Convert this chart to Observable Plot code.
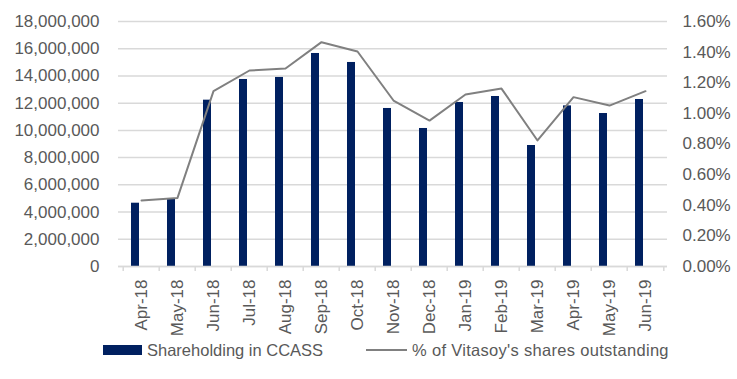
<!DOCTYPE html>
<html>
<head>
<meta charset="utf-8">
<script src="https://cdn.jsdelivr.net/npm/d3@7"></script>
<script src="https://cdn.jsdelivr.net/npm/@observablehq/plot@0.6"></script>
<style>
  body { margin: 0; background: #fff; }
  #chart svg { display: block; }
  .legend { display: flex; align-items: center; height: 20px; font-family: "Liberation Sans", Arial, sans-serif; font-size: 16.5px; color: #595959; white-space: nowrap; }
  .sw-bar { width: 39px; height: 10px; background: #002060; margin-left: 103px; margin-right: 5px; }
  .sw-line { width: 41px; height: 2px; background: #808080; margin-left: 43px; margin-right: 5px; }
  .t2 { letter-spacing: 0.3px; }
</style>
</head>
<body>
<div id="chart"></div>
<div class="legend"><span class="sw-bar"></span><span>Shareholding in CCASS</span><span class="sw-line"></span><span class="t2">% of Vitasoy's shares outstanding</span></div>
<script>
const months = ["Apr-18","May-18","Jun-18","Jul-18","Aug-18","Sep-18","Oct-18","Nov-18","Dec-18","Jan-19","Feb-19","Mar-19","Apr-19","May-19","Jun-19"];
const shares = [4650000, 4950000, 12220000, 13740000, 13890000, 15650000, 14990000, 11610000, 10140000, 12050000, 12490000, 8890000, 11800000, 11240000, 12270000];
const pctOutstanding = [0.431, 0.448, 1.145, 1.280, 1.293, 1.465, 1.404, 1.084, 0.953, 1.123, 1.162, 0.823, 1.106, 1.051, 1.145];
const leftTicks = [0, 2000000, 4000000, 6000000, 8000000, 10000000, 12000000, 14000000, 16000000, 18000000];
const rightTicks = [0, 0.2, 0.4, 0.6, 0.8, 1.0, 1.2, 1.4, 1.6];

const leftMax = 18000000, rightMax = 1.6;
const k = leftMax / rightMax;
const data = months.map((m, i) => ({month: m, shares: shares[i], pct: pctOutstanding[i]}));

const W = 737, H = 340, ML = 118, MR = 70, MT = 21, MB = 74;
const bw = (W - ML - MR) / months.length;
const plotH = H - MT - MB;
const font = '"Liberation Sans", Arial, sans-serif';

const chart = Plot.plot({
  width: W, height: H,
  marginLeft: ML, marginRight: MR, marginTop: MT, marginBottom: MB,
  style: {fontFamily: font, fontSize: "17px", color: "#595959", background: "#fff"},
  x: {type: "band", domain: months, paddingInner: 0, paddingOuter: 0},
  y: {domain: [0, leftMax]},
  marks: [
    Plot.gridY(leftTicks, {stroke: "#d9d9d9", strokeOpacity: 1, strokeWidth: 1.5}),
    Plot.barY(data, {x: "month", y: "shares", fill: "#002060", insetLeft: 8, insetRight: 20}),
    Plot.line(data, {x: "month", y: d => d.pct * k, stroke: "#808080", strokeWidth: 2}),
    Plot.ruleY([0], {stroke: "#d9d9d9", strokeWidth: 1.5}),
    Plot.ruleX(months, {x: d => d, dx: -bw / 2, stroke: "#d9d9d9", strokeWidth: 1.5, insetTop: plotH, insetBottom: -5}),
    Plot.ruleX([months[months.length - 1]], {x: d => d, dx: bw / 2, stroke: "#d9d9d9", strokeWidth: 1.5, insetTop: plotH, insetBottom: -5}),
    Plot.axisY(leftTicks, {anchor: "left", tickSize: 0, tickPadding: 19, tickFormat: d3.format(","), label: null}),
    Plot.axisY(rightTicks.map(t => t * k), {anchor: "right", tickSize: 0, tickPadding: 15, textAnchor: "start", tickFormat: d => (d / k).toFixed(2) + "%", label: null}),
    Plot.axisX({tickSize: 0, tickRotate: -90, tickPadding: 13, label: null})
  ]
});
document.getElementById("chart").append(chart);
</script>
</body>
</html>
